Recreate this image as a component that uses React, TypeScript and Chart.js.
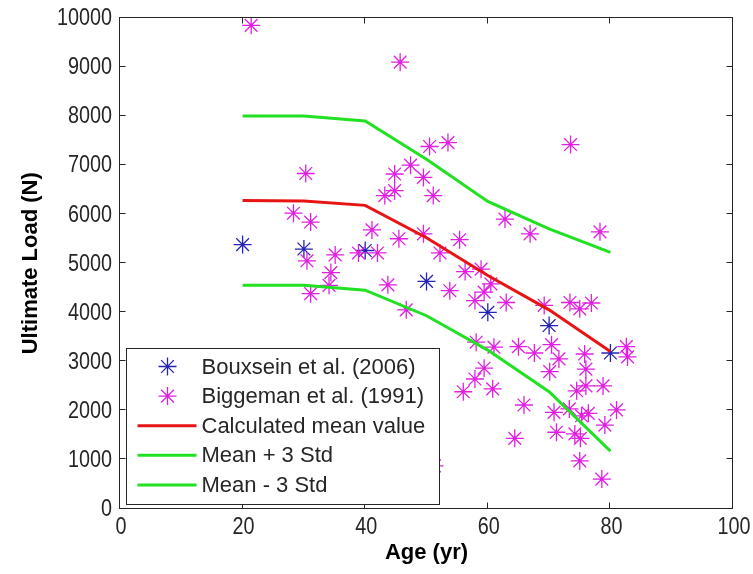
import React, { useEffect, useRef } from "react";
import { Chart, registerables } from "chart.js";

Chart.register(...registerables);

// Model curves (age in years, ultimate load in N)
const CURVE_AGES = [20, 30, 40, 50, 60, 70, 80];
const MEAN_LOAD = [6280, 6270, 6180, 5520, 4750, 4050, 3200];
const UPPER_LOAD = [8000, 8000, 7900, 7120, 6260, 5700, 5220];
const LOWER_LOAD = [4550, 4550, 4450, 3930, 3230, 2380, 1170];

// Bouxsein et al. (2006)
const BOUX_AGES = [20, 30, 40, 50, 60, 70, 80];
const BOUX_LOAD = [5380, 5290, 5260, 4630, 4000, 3730, 3170];

// Biggeman et al. (1991)
const BIG_AGES = [
  21.4, 45.7, 30.3, 28.3, 31.1, 30.5, 35.1, 34.4, 34.1, 31.1,
  38.9, 41.1, 50.5, 53.5, 47.4, 44.8, 49.5, 44.8, 43.2, 51.1,
  45.5, 49.5, 55.4, 42.0, 52.2, 56.3, 58.9, 60.5, 59.4, 57.9,
  43.7, 53.8, 46.7, 62.8, 73.5, 66.9, 78.3, 63.0, 69.2, 73.4,
  75.0, 76.9, 58.1, 61.0, 59.4, 57.9, 56.0, 60.8, 65.0, 67.6,
  70.4, 71.6, 70.1, 75.8, 76.0, 82.6, 82.8, 74.5, 76.0, 78.8,
  65.9, 70.8, 73.3, 75.3, 76.4, 81.0, 79.1, 71.2, 74.2, 75.1,
  64.4, 75.0, 78.6, 51.3,
];
const BIG_LOAD = [
  9850, 9100, 6830, 6020, 5840, 5050, 5170, 4810, 4550, 4380,
  5210, 5680, 7380, 7460, 7000, 6820, 6750, 6480, 6380, 6380,
  5500, 5600, 5480, 5210, 5210, 4830, 4880, 4580, 4410, 4240,
  4560, 4440, 4050, 5900, 7420, 5600, 5640, 4200, 4140, 4200,
  4070, 4190, 3390, 3290, 2860, 2640, 2380, 2440, 3300, 3170,
  3340, 3050, 2790, 3150, 2840, 3300, 3090, 2400, 2500, 2500,
  2110, 1960, 2030, 1890, 1940, 2010, 1700, 1555, 1520, 1430,
  1430, 970, 600, 870,
];

const X_MIN = 0, X_MAX = 100, X_STEP = 20;
const Y_MIN = 0, Y_MAX = 10000, Y_STEP = 1000;

const X_TITLE = "Age (yr)";
const Y_TITLE = "Ultimate Load (N)";

const LABEL_BOUX = "Bouxsein et al. (2006)";
const LABEL_BIG = "Biggeman et al. (1991)";
const LABEL_MEAN = "Calculated mean value";
const LABEL_UP = "Mean + 3 Std";
const LABEL_LOW = "Mean - 3 Std";

const BLUE = "#2424b4";
const MAGENTA = "#e020e0";
const RED = "#e81414";
const GREEN = "#22e022";
const INK = "#262626";

const FONT = "'Liberation Sans', Arial, Helvetica, sans-serif";

function pts(xs: number[], ys: number[]) {
  return xs.map((x, i) => ({ x, y: ys[i] }));
}

function drawStar(ctx: CanvasRenderingContext2D, x: number, y: number, r: number, color: string) {
  ctx.save();
  ctx.strokeStyle = color;
  ctx.lineWidth = 1.3;
  ctx.beginPath();
  for (let k = 0; k < 4; k++) {
    const a = (k * Math.PI) / 4;
    ctx.moveTo(x - Math.cos(a) * r, y - Math.sin(a) * r);
    ctx.lineTo(x + Math.cos(a) * r, y + Math.sin(a) * r);
  }
  ctx.stroke();
  ctx.restore();
}

function narrowText(ctx: CanvasRenderingContext2D, text: string, x: number, y: number, align: CanvasTextAlign) {
  ctx.save();
  ctx.translate(x, y);
  ctx.scale(0.86, 1);
  ctx.textAlign = align;
  ctx.fillText(text, 0, 0);
  ctx.restore();
}

const framePlugin = {
  id: "matlabFrame",
  afterDraw(chart: any) {
    const { ctx, chartArea: a, scales } = chart;
    const L = Math.round(a.left) - 0.5;
    const R = Math.round(a.right) - 0.5;
    const T = Math.round(a.top) - 0.5;
    const B = Math.round(a.bottom) - 0.5;
    ctx.save();
    ctx.strokeStyle = INK;
    ctx.lineWidth = 1;
    ctx.strokeRect(L, T, R - L, B - T);
    const tl = 6;
    ctx.beginPath();
    for (const t of scales.x.ticks) {
      const px = Math.round(scales.x.getPixelForValue(t.value)) - 0.5;
      ctx.moveTo(px, B); ctx.lineTo(px, B - tl);
      ctx.moveTo(px, T); ctx.lineTo(px, T + tl);
    }
    for (const t of scales.y.ticks) {
      const py = Math.round(scales.y.getPixelForValue(t.value)) - 0.5;
      ctx.moveTo(L, py); ctx.lineTo(L + tl, py);
      ctx.moveTo(R, py); ctx.lineTo(R - tl, py);
    }
    ctx.stroke();

    // Tick labels (slightly condensed, like the original)
    ctx.fillStyle = INK;
    ctx.font = `23px ${FONT}`;
    ctx.textBaseline = "middle";
    for (const t of scales.x.ticks) {
      const px = scales.x.getPixelForValue(t.value);
      narrowText(ctx, String(t.value), px + 1, a.bottom + 19, "center");
    }
    for (const t of scales.y.ticks) {
      const py = scales.y.getPixelForValue(t.value);
      narrowText(ctx, String(t.value), a.left - 8, py + 1, "right");
    }

    // Legend box (inside plot, lower-left)
    const lx = Math.round(a.left + 6) + 0.5;
    const lw = 313;
    const lh = 156;
    const ly = Math.round(a.bottom - 5 - lh) + 0.5;
    ctx.fillStyle = "#ffffff";
    ctx.fillRect(lx, ly, lw, lh);
    ctx.strokeRect(lx, ly, lw, lh);
    const rows = [
      { label: LABEL_BOUX, kind: "star", color: BLUE },
      { label: LABEL_BIG, kind: "star", color: MAGENTA },
      { label: LABEL_MEAN, kind: "line", color: RED },
      { label: LABEL_UP, kind: "line", color: GREEN },
      { label: LABEL_LOW, kind: "line", color: GREEN },
    ];
    ctx.font = `22px ${FONT}`;
    ctx.textBaseline = "middle";
    ctx.textAlign = "left";
    rows.forEach((r, i) => {
      const cy = ly + 18 + i * 29.6;
      if (r.kind === "star") {
        drawStar(ctx, lx + 41, cy, 9, r.color);
      } else {
        ctx.save();
        ctx.strokeStyle = r.color;
        ctx.lineWidth = 3;
        ctx.beginPath();
        ctx.moveTo(lx + 11, cy);
        ctx.lineTo(lx + 70, cy);
        ctx.stroke();
        ctx.restore();
      }
      ctx.fillStyle = INK;
      ctx.fillText(r.label, lx + 75, cy + 1);
    });
    ctx.restore();
  },
};

export default function App() {
  const ref = useRef<HTMLCanvasElement | null>(null);

  useEffect(() => {
    if (!ref.current) return;
    const chart = new Chart(ref.current, {
      type: "scatter",
      data: {
        datasets: [
          {
            label: LABEL_BOUX,
            data: pts(BOUX_AGES, BOUX_LOAD),
            pointStyle: "star",
            pointRadius: 9,
            pointBorderWidth: 1.3,
            borderColor: BLUE,
            backgroundColor: BLUE,
            showLine: false,
            order: 5,
          },
          {
            label: LABEL_BIG,
            data: pts(BIG_AGES, BIG_LOAD),
            pointStyle: "star",
            pointRadius: 9,
            pointBorderWidth: 1.3,
            borderColor: MAGENTA,
            backgroundColor: MAGENTA,
            showLine: false,
            order: 4,
          },
          {
            label: LABEL_MEAN,
            data: pts(CURVE_AGES, MEAN_LOAD),
            showLine: true,
            borderColor: RED,
            borderWidth: 3,
            pointRadius: 0,
            tension: 0,
            order: 3,
          },
          {
            label: LABEL_UP,
            data: pts(CURVE_AGES, UPPER_LOAD),
            showLine: true,
            borderColor: GREEN,
            borderWidth: 3,
            pointRadius: 0,
            tension: 0,
            order: 2,
          },
          {
            label: LABEL_LOW,
            data: pts(CURVE_AGES, LOWER_LOAD),
            showLine: true,
            borderColor: GREEN,
            borderWidth: 3,
            pointRadius: 0,
            tension: 0,
            order: 1,
          },
        ],
      },
      options: {
        responsive: false,
        animation: false,
        layout: { padding: { left: 0, top: 18, right: 20, bottom: 0 } },
        plugins: {
          legend: { display: false },
          tooltip: { enabled: false },
        },
        scales: {
          x: {
            type: "linear",
            min: X_MIN,
            max: X_MAX,
            grid: { display: false, drawTicks: false },
            border: { display: false },
            ticks: { stepSize: X_STEP, display: false },
            title: {
              display: true,
              text: X_TITLE,
              color: "#000",
              font: { family: FONT, size: 22, weight: "bold" },
              padding: { top: 0, bottom: 8 },
            },
            afterFit: (s: any) => {
              s.height = 65.5;
            },
          },
          y: {
            type: "linear",
            min: Y_MIN,
            max: Y_MAX,
            grid: { display: false, drawTicks: false },
            border: { display: false },
            ticks: { stepSize: Y_STEP, display: false },
            title: {
              display: true,
              text: Y_TITLE,
              color: "#000",
              font: { family: FONT, size: 22, weight: "bold" },
              padding: { top: 18, bottom: 0 },
            },
            afterFit: (s: any) => {
              s.width = 120;
            },
          },
        },
      },
      plugins: [framePlugin],
    });
    return () => chart.destroy();
  }, []);

  return (
    <div style={{ position: "absolute", left: 0, top: 0, width: 753, height: 574, background: "#fff" }}>
      <canvas ref={ref} width={753} height={574} style={{ display: "block" }} />
    </div>
  );
}
